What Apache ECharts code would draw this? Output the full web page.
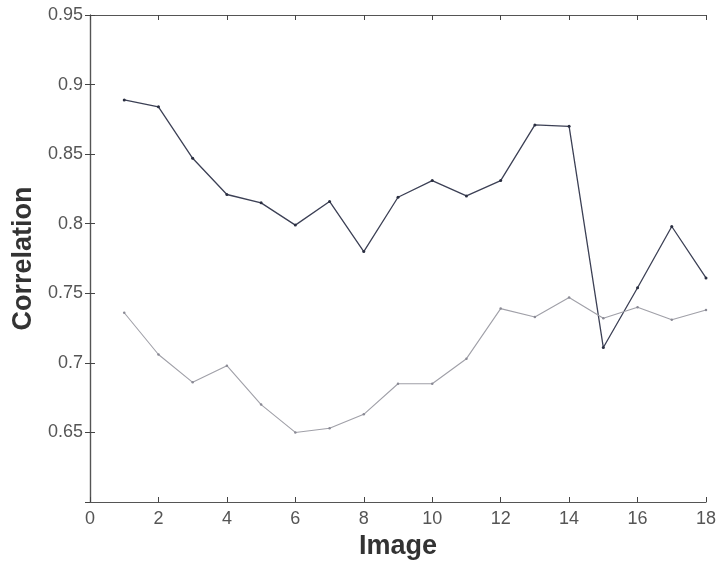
<!DOCTYPE html>
<html>
<head>
    <meta charset="utf-8">
    <script src="https://cdn.jsdelivr.net/npm/echarts@6/dist/echarts.min.js"></script>
    <style>
    html, body { margin: 0; padding: 0; background: #fff; }
    #main { width: 720px; height: 562px; }
    </style>
</head>
<body>
    <div id="main"></div>
    <script type="text/javascript">
        // image index 1..18
        var images = [1, 2, 3, 4, 5, 6, 7, 8, 9, 10, 11, 12, 13, 14, 15, 16, 17, 18];
        // upper curve (dark)
        var upper = [0.889, 0.884, 0.847, 0.821, 0.815, 0.799, 0.816, 0.780, 0.819, 0.831,
                     0.820, 0.831, 0.871, 0.870, 0.711, 0.754, 0.798, 0.761];
        // lower curve (light)
        var lower = [0.736, 0.706, 0.686, 0.698, 0.670, 0.650, 0.653, 0.663, 0.685, 0.685,
                     0.703, 0.739, 0.733, 0.747, 0.732, 0.740, 0.731, 0.738];

        function pairs(ys) {
            return images.map(function (x, i) { return [x, ys[i]]; });
        }

        var font = 'Liberation Sans, Arial, sans-serif';
        var axisLine = { show: true, lineStyle: { color: '#555', width: 1.2 } };
        var tickIn = { show: true, inside: true, length: 5, lineStyle: { color: '#444' } };

        var myChart = echarts.init(document.getElementById('main'));
        var option = {
            backgroundColor: '#fff',
            animation: false,
            grid: { left: 90, right: 14, top: 15, bottom: 60, outerBoundsMode: 'none' },
            xAxis: [
                {
                    type: 'value', min: 0, max: 18, interval: 2,
                    name: 'Image', nameLocation: 'middle', nameGap: 26,
                    nameTextStyle: { fontFamily: font, fontSize: 27, fontWeight: 'bold', color: '#333' },
                    axisLine: axisLine, axisTick: tickIn,
                    axisLabel: { fontFamily: font, fontSize: 18, color: '#555', margin: 8 },
                    splitLine: { show: false }
                },
                {
                    type: 'value', min: 0, max: 18, interval: 2, position: 'top',
                    axisLine: axisLine, axisTick: tickIn,
                    axisLabel: { show: false }, splitLine: { show: false }
                }
            ],
            yAxis: [
                {
                    type: 'value', min: 0.6, max: 0.95, interval: 0.05,
                    name: 'Correlation', nameLocation: 'middle', nameGap: 53,
                    nameTextStyle: { fontFamily: font, fontSize: 27, fontWeight: 'bold', color: '#333' },
                    axisLine: axisLine, axisTick: tickIn,
                    axisLabel: {
                        fontFamily: font, fontSize: 18, color: '#555', margin: 7, showMinLabel: false,
                        formatter: function (v) { return String(+v.toFixed(2)); }
                    },
                    splitLine: { show: false }
                },
                {
                    type: 'value', min: 0.6, max: 0.95, interval: 0.05, position: 'right',
                    axisLine: axisLine, axisTick: tickIn,
                    axisLabel: { show: false }, splitLine: { show: false }
                }
            ],
            series: [
                {
                    name: 'upper', type: 'line', data: pairs(upper),
                    symbol: 'circle', symbolSize: 3,
                    lineStyle: { color: '#3c4055', width: 1.3 },
                    itemStyle: { color: '#2a2e40' }
                },
                {
                    name: 'lower', type: 'line', data: pairs(lower),
                    symbol: 'circle', symbolSize: 2.5,
                    lineStyle: { color: '#a0a0a8', width: 1.1 },
                    itemStyle: { color: '#8a8a95' }
                }
            ]
        };
        myChart.setOption(option);
    </script>
</body>
</html>
